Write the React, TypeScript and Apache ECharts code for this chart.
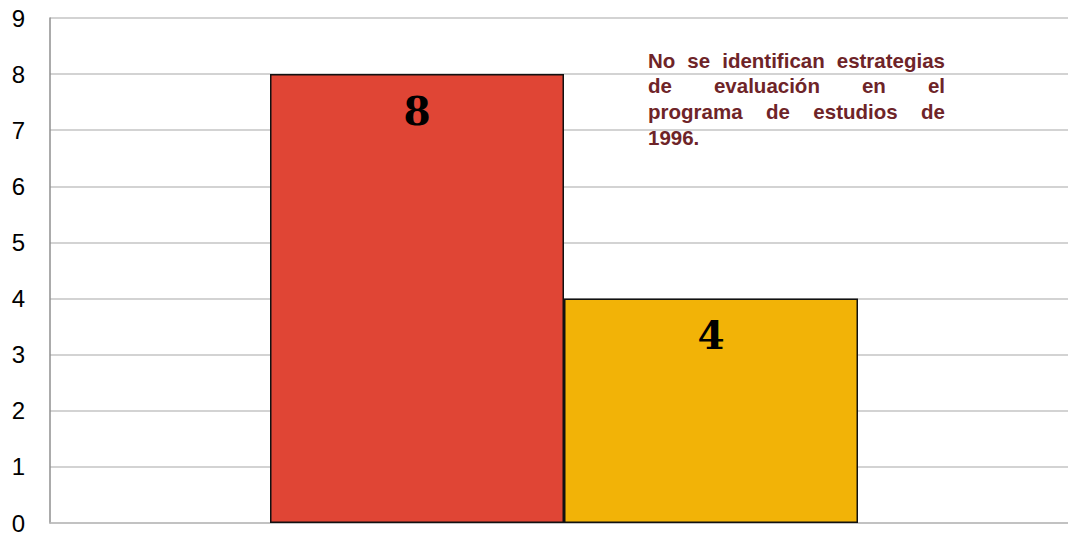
import React, { useEffect, useRef } from "react";
import * as echarts from "echarts";

const categories = [""];
const seriesNames = ["Programa A", "Programa B"];
const redValues = [8];
const yellowValues = [4];
const yMin = 0;
const yMax = 9;
const yInterval = 1;
const noteLines = [
  "No se identifican estrategias",
  "de evaluación en el",
  "programa de estudios de",
  "1996.",
];

const NOTE_FONT_SIZE = 20.5;
const NOTE_FONT_FAMILY = "Liberation Sans";
const NOTE_COLOR = "#6e2428";
const NOTE_LEFT = 648;
const NOTE_RIGHT = 945;
const NOTE_FIRST_Y = 60;
const NOTE_LINE_STEP = 25.8;

function buildNote(): any[] {
  const canvas = document.createElement("canvas");
  const ctx = canvas.getContext("2d");
  const font = `bold ${NOTE_FONT_SIZE}px "${NOTE_FONT_FAMILY}"`;
  if (ctx) ctx.font = font;
  const measure = (s: string) => (ctx ? ctx.measureText(s).width : s.length * 10);
  const els: any[] = [];
  noteLines.forEach((line, li) => {
    const y = NOTE_FIRST_Y + li * NOTE_LINE_STEP;
    const words = line.split(" ");
    const justify = li < noteLines.length - 1 && words.length > 1;
    const widths = words.map(measure);
    const total = widths.reduce((a, b) => a + b, 0);
    const gap = justify
      ? (NOTE_RIGHT - NOTE_LEFT - total) / (words.length - 1)
      : measure(" ");
    let x = NOTE_LEFT;
    words.forEach((w, wi) => {
      els.push({
        type: "text",
        x,
        y,
        silent: true,
        style: {
          text: w,
          fontSize: NOTE_FONT_SIZE,
          fontWeight: "bold",
          fontFamily: NOTE_FONT_FAMILY,
          fill: NOTE_COLOR,
          textAlign: "left",
          textVerticalAlign: "middle",
          align: "left",
          verticalAlign: "middle",
        },
      });
      x += widths[wi] + gap;
    });
  });
  return els;
}

export default function App() {
  const ref = useRef<HTMLDivElement>(null);
  useEffect(() => {
    if (!ref.current) return;
    const chart = echarts.init(ref.current, undefined, { renderer: "svg" });
    const barLabel = {
      show: true,
      position: "insideTop",
      distance: 17,
      color: "#000",
      fontFamily: '"DejaVu Serif", "Liberation Serif", serif',
      fontWeight: "bold",
      fontSize: 39,
    };
    chart.setOption({
      animation: false,
      backgroundColor: "#ffffff",
      grid: {
        left: 50,
        right: -10,
        top: 18,
        bottom: 14,
        containLabel: false,
        outerBoundsMode: "none",
      },
      xAxis: {
        type: "category",
        data: categories,
        axisLine: { show: true, lineStyle: { color: "#bdbdbd", width: 1.5 } },
        axisTick: { show: false },
        axisLabel: { show: false },
        splitLine: { show: false },
      },
      yAxis: {
        type: "value",
        min: yMin,
        max: yMax,
        interval: yInterval,
        axisLine: { show: true, lineStyle: { color: "#8f8f8f", width: 1.5 } },
        axisTick: { show: false },
        axisLabel: {
          color: "#000",
          fontSize: 24,
          fontFamily: "Liberation Sans",
          margin: 25,
        },
        splitLine: { show: true, lineStyle: { color: "#c4c4c4", width: 1.5 } },
      },
      series: [
        {
          name: seriesNames[0],
          type: "bar",
          data: redValues,
          barWidth: 294,
          barGap: "0%",
          itemStyle: { color: "#e04535", borderColor: "#111", borderWidth: 1.5 },
          label: barLabel,
        },
        {
          name: seriesNames[1],
          type: "bar",
          data: yellowValues,
          barWidth: 294,
          barGap: "0%",
          itemStyle: { color: "#f2b307", borderColor: "#111", borderWidth: 1.5 },
          label: barLabel,
        },
      ],
      graphic: buildNote(),
    });
    return () => chart.dispose();
  }, []);
  return (
    <div
      ref={ref}
      style={{ position: "fixed", left: 0, top: 0, width: 1068, height: 537, background: "#fff" }}
    />
  );
}
